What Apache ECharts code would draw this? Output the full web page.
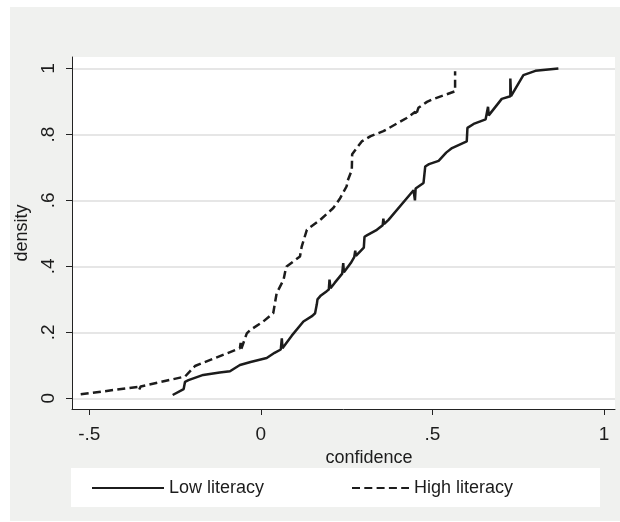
<!DOCTYPE html>
<html>
<head>
<meta charset="utf-8">
<script src="https://cdn.jsdelivr.net/npm/echarts@6/dist/echarts.min.js"></script>
<style>
  html, body { margin: 0; padding: 0; background: #ffffff; }
  #panel { position: absolute; left: 10px; top: 7px; width: 610px; height: 514px; background: #f0f1ef; }
  #chart { position: absolute; left: 0; top: 0; width: 620px; height: 522px; }
</style>
</head>
<body>
<div id="panel"></div>
<div id="chart"></div>
<script>
// ---- data ----
const seriesNames = ['Low literacy', 'High literacy'];

const xTickValues = [-0.5, 0, 0.5, 1];
const xTickLabels = ['-.5', '0', '.5', '1'];
const yTickValues = [0, 0.2, 0.4, 0.6, 0.8, 1];
const yTickLabels = ['0', '.2', '.4', '.6', '.8', '1'];

const xTitle = 'confidence';
const yTitle = 'density';

// [confidence, cumulative density]
const lowLiteracy = [
  [-0.257, 0.010], [-0.225, 0.028], [-0.221, 0.032], [-0.221, 0.050], [-0.211, 0.055],
  [-0.168, 0.071], [-0.120, 0.078], [-0.090, 0.082], [-0.075, 0.092], [-0.061, 0.101],
  [-0.030, 0.110], [0.017, 0.122], [0.040, 0.138], [0.058, 0.148], [0.061, 0.182],
  [0.063, 0.152], [0.090, 0.190], [0.124, 0.233], [0.150, 0.250], [0.158, 0.258],
  [0.163, 0.285], [0.165, 0.300], [0.175, 0.312], [0.192, 0.325], [0.198, 0.330],
  [0.200, 0.360], [0.203, 0.334], [0.215, 0.350], [0.237, 0.378], [0.240, 0.410],
  [0.242, 0.382], [0.262, 0.410], [0.272, 0.428], [0.275, 0.448], [0.277, 0.432],
  [0.300, 0.457], [0.302, 0.490], [0.310, 0.495], [0.338, 0.511], [0.355, 0.525],
  [0.357, 0.545], [0.359, 0.528], [0.372, 0.541], [0.445, 0.631], [0.449, 0.600],
  [0.451, 0.636], [0.474, 0.653], [0.479, 0.703], [0.490, 0.710], [0.518, 0.720],
  [0.540, 0.745], [0.557, 0.759], [0.600, 0.779], [0.602, 0.820], [0.620, 0.832],
  [0.655, 0.846], [0.662, 0.884], [0.664, 0.858], [0.702, 0.908], [0.727, 0.916],
  [0.727, 0.970], [0.729, 0.916], [0.765, 0.980], [0.800, 0.993], [0.867, 1.000]
];

const highLiteracy = [
  [-0.525, 0.012], [-0.357, 0.035], [-0.355, 0.026], [-0.350, 0.036], [-0.221, 0.066],
  [-0.192, 0.098], [-0.061, 0.152], [-0.059, 0.168], [-0.057, 0.150], [-0.041, 0.197],
  [-0.031, 0.207], [0.007, 0.233], [0.036, 0.258], [0.046, 0.319], [0.066, 0.359],
  [0.072, 0.390], [0.075, 0.400], [0.114, 0.430], [0.119, 0.460], [0.134, 0.511],
  [0.173, 0.541], [0.211, 0.577], [0.230, 0.605], [0.250, 0.643], [0.253, 0.660],
  [0.265, 0.692], [0.266, 0.740], [0.294, 0.779], [0.320, 0.795], [0.357, 0.810],
  [0.396, 0.833], [0.425, 0.850], [0.450, 0.869], [0.452, 0.858], [0.459, 0.881],
  [0.484, 0.899], [0.498, 0.906], [0.566, 0.931], [0.566, 0.992]
];

// ---- chart ----
const ink = '#1c1c1c';
const font = "'Liberation Sans', Arial, Helvetica, sans-serif";
const chart = echarts.init(document.getElementById('chart'), null, { renderer: 'canvas' });

chart.setOption({
  animation: false,
  backgroundColor: 'transparent',
  textStyle: { fontFamily: font, color: ink },
  grid: {
    left: 72, top: 57, right: 5, bottom: 113,
    show: true, backgroundColor: '#ffffff', borderWidth: 0
  },
  xAxis: {
    type: 'value',
    min: -0.5504, max: 1.032,
    name: xTitle, nameLocation: 'middle', nameGap: 38,
    nameTextStyle: { fontSize: 18, color: ink, fontFamily: font, padding: [0, 0, 0, 51] },
    axisLine: { show: true, onZero: false, lineStyle: { color: '#222', width: 1 } },
    axisTick: { show: true, length: 6, customValues: xTickValues, lineStyle: { color: '#222', width: 1 } },
    axisLabel: {
      customValues: xTickValues, margin: 16, fontSize: 19, color: ink, fontFamily: font,
      formatter: v => xTickLabels[xTickValues.findIndex(t => Math.abs(t - v) < 1e-9)]
    },
    splitLine: { show: false }
  },
  yAxis: {
    type: 'value',
    min: -0.0324, max: 1.035,
    name: yTitle, nameLocation: 'middle', nameGap: 39,
    nameTextStyle: { fontSize: 18, color: ink, fontFamily: font },
    axisLine: { show: true, onZero: false, lineStyle: { color: '#222', width: 1 } },
    axisTick: { show: true, length: 6, customValues: yTickValues, lineStyle: { color: '#222', width: 1 } },
    axisLabel: {
      customValues: yTickValues, margin: 14, rotate: 90, fontSize: 19, color: ink, fontFamily: font,
      formatter: v => yTickLabels[yTickValues.findIndex(t => Math.abs(t - v) < 1e-9)]
    },
    splitLine: { show: true, lineStyle: { color: '#e6e6e6', width: 2 } }
  },
  legend: [
    {
      data: [seriesNames[0]], left: 91, top: 479, padding: 0,
      itemWidth: 72, itemHeight: 14,
      itemStyle: { opacity: 0 },
      textStyle: { fontSize: 18, color: ink, fontFamily: font }
    },
    {
      data: [seriesNames[1]], left: 351, top: 479, padding: 0,
      itemWidth: 57, itemHeight: 14,
      itemStyle: { opacity: 0 },
      textStyle: { fontSize: 18, color: ink, fontFamily: font }
    }
  ],
  graphic: [
    { type: 'rect', z: 0, silent: true, shape: { x: 71, y: 468, width: 529, height: 39 }, style: { fill: '#ffffff' } }
  ],
  series: [
    {
      name: seriesNames[0], type: 'line', data: lowLiteracy,
      symbol: 'none', showSymbol: false,
      lineStyle: { color: ink, width: 2.5, type: 'solid' },
      itemStyle: { color: ink }
    },
    {
      name: seriesNames[1], type: 'line', data: highLiteracy,
      symbol: 'none', showSymbol: false,
      lineStyle: { color: ink, width: 2.5, type: [8, 4.3] },
      itemStyle: { color: ink }
    }
  ]
});
</script>
</body>
</html>
